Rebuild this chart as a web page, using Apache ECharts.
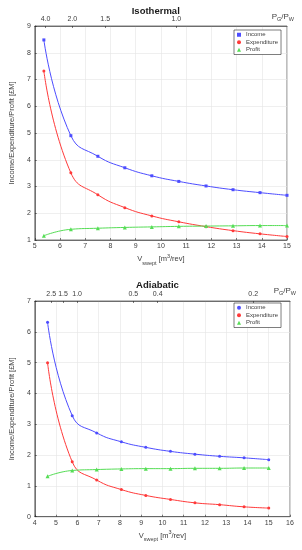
<!DOCTYPE html>
<html>
<head>
<meta charset="utf-8">
<script src="https://cdn.jsdelivr.net/npm/echarts@6/dist/echarts.min.js"></script>
<style>
html,body{margin:0;padding:0;background:#fff;}
#c{width:302px;height:550px;}
</style>
</head>
<body>
<div id="c"></div>
<script>
// ---------- Data ----------
var isoV       = [5.36, 6.43, 7.50, 8.57, 9.64, 10.71, 11.79, 12.86, 13.93, 15.00];
var isoIncome  = [8.48, 4.90, 4.13, 3.70, 3.40, 3.19, 3.02, 2.88, 2.77, 2.67];
var isoExp     = [7.32, 3.51, 2.69, 2.21, 1.90, 1.68, 1.50, 1.35, 1.23, 1.13];
var isoProfit  = [1.16, 1.40, 1.44, 1.47, 1.49, 1.51, 1.52, 1.53, 1.54, 1.54];
var isoTopPos    = [5.43, 6.49, 7.79, 10.61];
var isoTopLabels = ['4.0', '2.0', '1.5', '1.0'];

var adiV       = [4.60, 5.76, 6.91, 8.07, 9.22, 10.38, 11.53, 12.69, 13.84, 15.00];
var adiIncome  = [6.31, 3.28, 2.72, 2.43, 2.25, 2.12, 2.03, 1.96, 1.91, 1.85];
var adiExp     = [5.00, 1.78, 1.19, 0.88, 0.69, 0.56, 0.45, 0.39, 0.32, 0.28];
var adiProfit  = [1.31, 1.50, 1.53, 1.55, 1.56, 1.56, 1.57, 1.57, 1.58, 1.58];
var adiTopPos    = [4.77, 5.33, 5.99, 8.63, 9.78, 14.27];
var adiTopLabels = ['2.5', '1.5', '1.0', '0.5', '0.4', '0.2'];

var seriesNames = ['Income', 'Expenditure', 'Profit'];
var titles = ['Isothermal', 'Adiabatic'];
var yName = 'Income/Expenditure/Profit [£M]';
// ---------- Styles ----------
var FONT = 'Liberation Sans, Arial, sans-serif';
var AX = '#262626';
var LBL = '#404040';
var GRIDC = '#e4e4e4';
var colors = ['#4d4dff', '#ff3a3a', '#55dd55'];

function zip(xs, ys){ return xs.map(function(x,i){ return [x, ys[i]]; }); }
function topFormatter(pos, labels){
  return function(v){
    var best = 0, d = 1e9;
    for (var i=0;i<pos.length;i++){ var dd=Math.abs(pos[i]-v); if(dd<d){d=dd;best=i;} }
    return labels[best];
  };
}

var grids = [
  {left: 24.5, top: 26, width: 262.5, height: 214},
  {left: 25, top: 301, width: 265, height: 215.7}
];
grids.forEach(function(g){ g.show = true; g.borderColor = AX; g.borderWidth = 0.6; g.backgroundColor = '#fff'; });

function bottomAxis(gi, min, max){
  return {
    type: 'value', gridIndex: gi, position: 'bottom', min: min, max: max, interval: 1,
    axisLine: {show: true, lineStyle: {color: AX, width: 0.6}},
    axisTick: {show: true, inside: true, length: 2, lineStyle: {color: AX, width: 0.6}},
    axisLabel: {fontSize: 7, color: LBL, fontFamily: FONT, margin: 3},
    splitLine: {show: true, lineStyle: {color: GRIDC, width: 0.6}},
    name: '{n|V}{s|swept}{n| [m}{p|3}{n|/rev]}',
    nameLocation: 'middle', nameGap: 13,
    nameTextStyle: {
      fontFamily: FONT, color: LBL, fontSize: 7.5,
      rich: {
        n: {fontSize: 7.5, fontFamily: FONT, color: LBL, verticalAlign: 'bottom', lineHeight: 10},
        s: {fontSize: 5.5, fontFamily: FONT, color: LBL, verticalAlign: 'bottom', lineHeight: 10, padding: [0,0,-3,0]},
        p: {fontSize: 5.5, fontFamily: FONT, color: LBL, verticalAlign: 'bottom', lineHeight: 10, padding: [0,0,4,0]}
      }
    }
  };
}
function topAxis(gi, min, max, pos, labels){
  return {
    type: 'value', gridIndex: gi, position: 'top', min: min, max: max,
    axisLine: {show: true, lineStyle: {color: AX, width: 0.6}},
    axisTick: {show: true, inside: true, length: 2, customValues: pos, lineStyle: {color: AX, width: 0.6}},
    axisLabel: {fontSize: 7, color: LBL, fontFamily: FONT, margin: 3, customValues: pos, formatter: topFormatter(pos, labels)},
    splitLine: {show: false}
  };
}
function leftAxis(gi, min, max){
  return {
    type: 'value', gridIndex: gi, min: min, max: max, interval: 1,
    axisLine: {show: true, lineStyle: {color: AX, width: 0.6}},
    axisTick: {show: true, inside: true, length: 2, lineStyle: {color: AX, width: 0.6}},
    axisLabel: {fontSize: 7, color: LBL, fontFamily: FONT, margin: 4},
    splitLine: {show: true, lineStyle: {color: GRIDC, width: 0.6}},
    name: yName, nameLocation: 'middle', nameGap: 9, nameRotate: 90,
    nameTextStyle: {fontSize: 7.5, color: LBL, fontFamily: FONT}
  };
}

var markers = [
  ['rect', 'circle', 'triangle'],
  ['circle', 'circle', 'triangle']
];
var datasets = [
  [isoIncome, isoExp, isoProfit],
  [adiIncome, adiExp, adiProfit]
];
var xs = [isoV, adiV];

var series = [];
for (var g=0; g<2; g++){
  for (var k=0; k<3; k++){
    series.push({
      type: 'line', name: seriesNames[k], xAxisIndex: g*2, yAxisIndex: g,
      data: zip(xs[g], datasets[g][k]),
      smooth: 0.5,
      symbol: markers[g][k], symbolSize: k===2 ? 4 : 3,
      lineStyle: {color: colors[k], width: 1},
      itemStyle: {color: colors[k]},
      showAllSymbol: true,
      silent: true, animation: false, z: 3
    });
  }
}

function legend(top){
  return {
    orient: 'vertical', left: 234, top: top,
    itemWidth: 4, itemHeight: 4, itemGap: 0,
    padding: [1, 3, 1, 3],
    borderColor: AX, borderWidth: 0.6, backgroundColor: '#fff',
    textStyle: {fontSize: 6, color: LBL, fontFamily: FONT, lineHeight: 7.5, padding: [0,0,0,0]},
    selectedMode: false
  };
}

var option = {
  animation: false,
  backgroundColor: '#fff',
  grid: grids,
  xAxis: [
    bottomAxis(0, 5, 15), topAxis(0, 5, 15, isoTopPos, isoTopLabels),
    bottomAxis(1, 4, 16), topAxis(1, 4, 16, adiTopPos, adiTopLabels)
  ],
  yAxis: [leftAxis(0, 1, 9), leftAxis(1, 0, 7)],
  legend: [
    Object.assign(legend(30), {data: [{name:'Income', icon:'rect'}, {name:'Expenditure', icon:'circle'}, {name:'Profit', icon:'triangle'}]}),
    Object.assign(legend(303), {data: [{name:'Income', icon:'circle'}, {name:'Expenditure', icon:'circle'}, {name:'Profit', icon:'triangle'}]})
  ],
  title: [
    {text: titles[0], left: 155.75, top: 6, padding: 0, textAlign: 'center', textStyle: {fontSize: 9.5, fontWeight: 'bold', color: '#1a1a1a', fontFamily: FONT}},
    {text: titles[1], left: 157.5, top: 280, padding: 0, textAlign: 'center', textStyle: {fontSize: 9.5, fontWeight: 'bold', color: '#1a1a1a', fontFamily: FONT}}
  ],
  graphic: [
    {type: 'text', right: 8, top: 13, style: {text: '{n|P}{s|G}{n|/P}{s|W}', fontFamily: FONT, fill: LBL,
      rich: {n: {fontSize: 8, fontFamily: FONT, fill: LBL, lineHeight: 10}, s: {fontSize: 5.5, fontFamily: FONT, fill: LBL, lineHeight: 10, padding: [0,0,-4,0]}}}},
    {type: 'text', right: 6, top: 287, style: {text: '{n|P}{s|G}{n|/P}{s|W}', fontFamily: FONT, fill: LBL,
      rich: {n: {fontSize: 8, fontFamily: FONT, fill: LBL, lineHeight: 10}, s: {fontSize: 5.5, fontFamily: FONT, fill: LBL, lineHeight: 10, padding: [0,0,-4,0]}}}}
  ],
  series: series
};

var chart = echarts.init(document.getElementById('c'), null, {renderer: 'canvas'});
chart.setOption(option);
</script>
</body>
</html>
